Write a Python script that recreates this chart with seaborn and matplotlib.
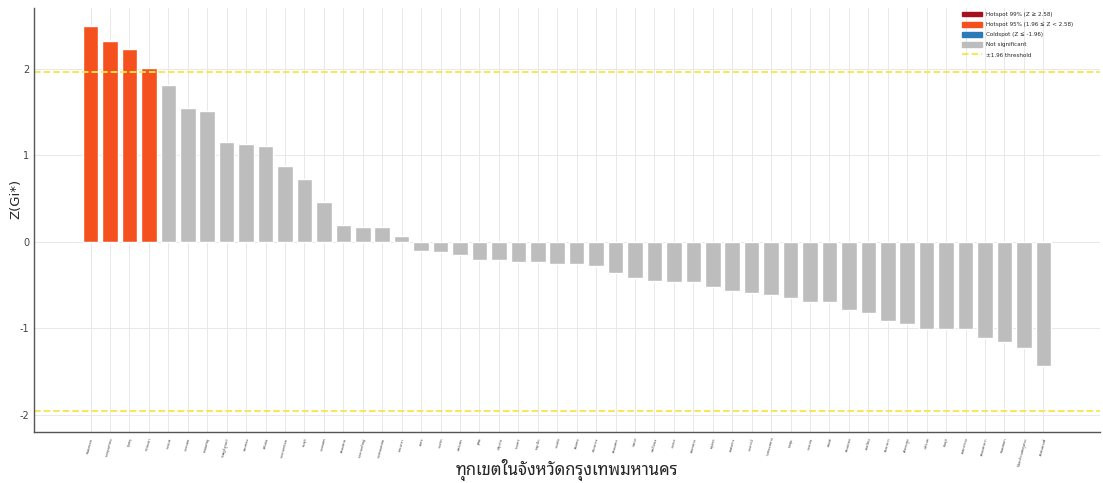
import matplotlib
matplotlib.use('Agg')
import matplotlib.pyplot as plt
from matplotlib.patches import Patch
from matplotlib.lines import Line2D
import seaborn as sns
import pandas as pd

# districts (sorted by Gi* z-score) and their z values
districts = ['หนองแขม', 'บางขุนเทียน', 'ทุ่งครุ', 'ทวีวัฒนา', 'บางแค', 'บางบอน', 'ภาษีเจริญ',
             'ราษฎร์บูรณะ', 'จอมทอง', 'ตลิ่งชัน', 'บางกอกน้อย', 'ธนบุรี', 'บางพลัด', 'คลองสาน',
             'บางกอกใหญ่', 'บางคอแหลม', 'ยานนาวา', 'สาทร', 'บางรัก', 'พระนคร', 'ดุสิต',
             'ปทุมวัน', 'ราชเทวี', 'พญาไท', 'บางซื่อ', 'ดินแดง', 'ห้วยขวาง', 'คลองเตย', 'วัฒนา',
             'พระโขนง', 'บางนา', 'สวนหลวง', 'จตุจักร', 'ลาดพร้าว', 'บางกะปิ', 'วังทองหลาง',
             'บึงกุ่ม', 'บางเขน', 'หลักสี่', 'ดอนเมือง', 'สายไหม', 'คันนายาว', 'สะพานสูง',
             'ประเวศ', 'มีนบุรี', 'ลาดกระบัง', 'คลองสามวา', 'หนองจอก', 'ป้อมปราบศัตรูพ่าย',
             'สัมพันธวงศ์']
z_scores = [2.49, 2.32, 2.23, 2.01, 1.81, 1.54, 1.51, 1.15, 1.13, 1.11, 0.87, 0.72, 0.46,
            0.19, 0.17, 0.17, 0.06, -0.11, -0.12, -0.15, -0.21, -0.21, -0.23, -0.23, -0.26,
            -0.26, -0.28, -0.36, -0.42, -0.45, -0.47, -0.47, -0.52, -0.57, -0.59, -0.62,
            -0.65, -0.70, -0.70, -0.79, -0.83, -0.92, -0.95, -1.01, -1.01, -1.01, -1.12,
            -1.16, -1.23, -1.44]

labels = ['Hotspot 99% (Z ≥ 2.58)', 'Hotspot 95% (1.96 ≤ Z < 2.58)',
          'Coldspot (Z ≤ -1.96)', 'Not significant']
colors = ['#a50f1e', '#f4511e', '#2b7bb9', '#bdbdbd']
thr_color = '#f7e64a'

def classify(z):
    if z >= 2.58:
        return labels[0]
    if z >= 1.96:
        return labels[1]
    if z <= -1.96:
        return labels[2]
    return labels[3]

df = pd.DataFrame({'district': districts, 'z': z_scores})
df['cls'] = df['z'].apply(classify)

sns.set_style('whitegrid')
plt.rcParams['font.family'] = ['DejaVu Sans', 'Noto Sans Thai Looped']
plt.rcParams['axes.unicode_minus'] = False

fig = plt.figure(figsize=(11.03, 4.83), dpi=100)
ax = fig.add_axes([0.031, 0.106, 0.966, 0.877])
sns.barplot(data=df, x='district', y='z', hue='cls', hue_order=labels,
            palette=dict(zip(labels, colors)), dodge=False, width=0.8,
            saturation=1, legend=False, ax=ax)

ax.axhline(1.96, color=thr_color, ls='--', lw=1.3, zorder=1)
ax.axhline(-1.96, color=thr_color, ls='--', lw=1.3, zorder=1)

ax.set_xlim(-2.9, 51.9)
ax.set_ylim(-2.2, 2.7)
ax.set_yticks([-2, -1, 0, 1, 2])
ax.tick_params(axis='y', labelsize=7, colors='#444444', length=2, pad=1.5)
ax.tick_params(axis='x', labelsize=2.8, colors='#444444', length=2, pad=2)
ax.set_xticks(range(len(districts)))
ax.set_xticklabels(districts, rotation=75, ha='right', rotation_mode='anchor')
ax.grid(True, color='#e8e8e8', lw=0.7)
ax.set_axisbelow(True)
for s in ['top', 'right']:
    ax.spines[s].set_visible(False)
for s in ['left', 'bottom']:
    ax.spines[s].set_color('#555555')
    ax.spines[s].set_linewidth(1.0)

ax.set_ylabel('Z(Gi*)', fontsize=9.5)
ax.yaxis.set_label_coords(-0.011, 0.55)
ax.set_xlabel('ทุกเขตในจังหวัดกรุงเทพมหานคร', fontsize=12, fontweight='bold')
ax.xaxis.set_label_coords(0.5, -0.065)

handles = [Patch(color=c, label=l) for l, c in zip(labels, colors)]
handles.append(Line2D([0], [0], color=thr_color, ls='--', lw=1.3, label='±1.96 threshold'))
ax.legend(handles=handles, loc='upper right', fontsize=4.1, frameon=False,
          handlelength=3.6, handleheight=0.9, handletextpad=0.6, labelspacing=0.85,
          borderaxespad=0.2, bbox_to_anchor=(0.978, 1.0))

fig.savefig('out.png', dpi=100)
